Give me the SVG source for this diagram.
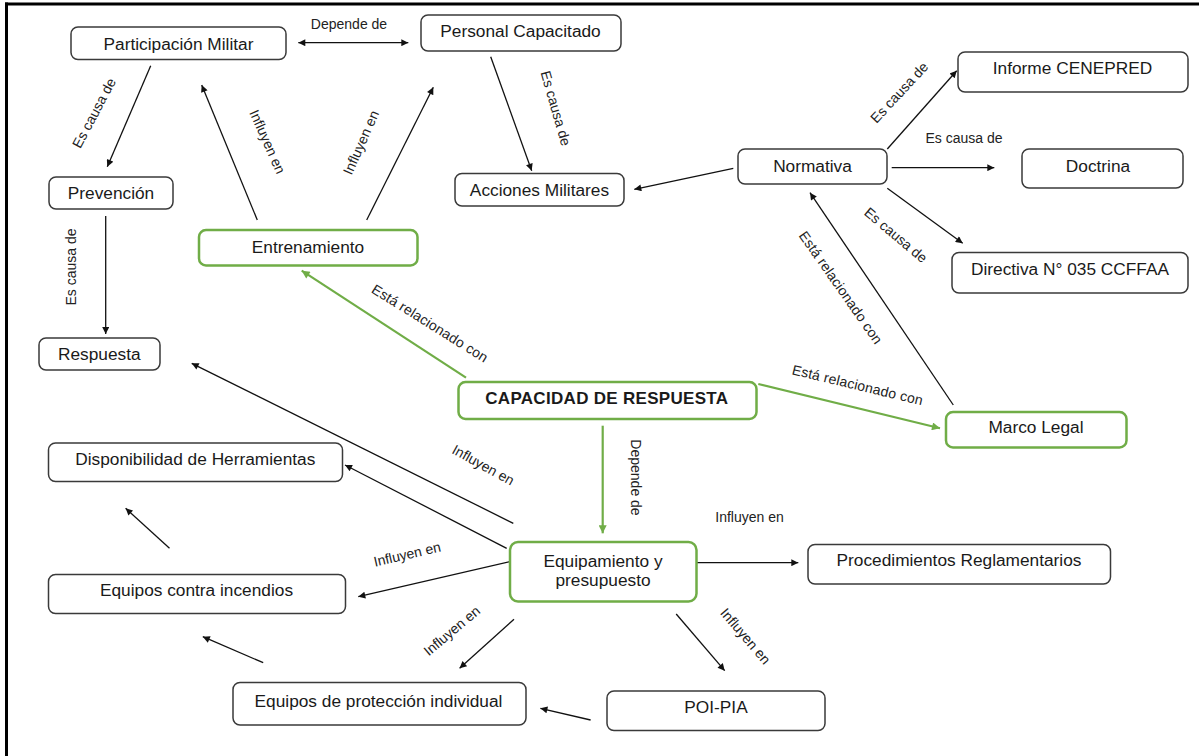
<svg xmlns="http://www.w3.org/2000/svg" width="1199" height="756" viewBox="0 0 1199 756">
<style>
.box{fill:#fff;stroke:#3a3a3a;stroke-width:1.5}
.gbox{fill:#fff;stroke:#70AD47;stroke-width:2.5}
.t{font-family:"Liberation Sans",Arial,sans-serif;font-size:17.3px;fill:#1a1a1a;text-anchor:middle}
.tb{font-family:"Liberation Sans",Arial,sans-serif;font-size:17px;font-weight:bold;fill:#1a1a1a;text-anchor:middle;letter-spacing:0.3px}
.lbl{font-family:"Liberation Sans",Arial,sans-serif;font-size:14px;fill:#222;text-anchor:middle}
.c{stroke:#111;stroke-width:1.3;fill:none;marker-end:url(#ah)}
.g{stroke:#70AD47;stroke-width:2.2;fill:none;marker-end:url(#gh)}
</style>
<defs>
<marker id="ah" viewBox="0 0 10 10" refX="10" refY="5" markerWidth="9" markerHeight="7" markerUnits="userSpaceOnUse" orient="auto-start-reverse"><path d="M0,0 L10,5 L0,10 z" fill="#111"/></marker>
<marker id="gh" viewBox="0 0 10 10" refX="10" refY="5" markerWidth="10" markerHeight="8" markerUnits="userSpaceOnUse" orient="auto"><path d="M0,0 L10,5 L0,10 z" fill="#70AD47"/></marker>
</defs>
<rect width="1199" height="756" fill="#fff"/>
<g id="frame" stroke="#000" stroke-width="3">
<line x1="6.5" y1="2.5" x2="6.5" y2="756"/>
<line x1="5" y1="4" x2="1199" y2="4"/>
</g>
<g id="connectors">
<line class="c" x1="298.3" y1="42.7" x2="408.3" y2="42.7" marker-start="url(#ah)"/>
<text class="lbl" x="349" y="29">Depende de</text>
<line class="c" x1="150.7" y1="65.7" x2="107.3" y2="166.7"/>
<text class="lbl" transform="translate(94,113) rotate(-62)" dy="0.35em">Es causa de</text>
<line class="c" x1="105.7" y1="216" x2="105.7" y2="334"/>
<text class="lbl" transform="translate(71,267) rotate(-90)" dy="0.35em">Es causa de</text>
<line class="c" x1="257.3" y1="220" x2="201.7" y2="85"/>
<text class="lbl" transform="translate(267.5,141.7) rotate(66)" dy="0.35em">Influyen en</text>
<line class="c" x1="366.7" y1="220" x2="433.3" y2="87.3"/>
<text class="lbl" transform="translate(361,142.5) rotate(-66)" dy="0.35em">Influyen en</text>
<line class="c" x1="490.7" y1="56.7" x2="531.7" y2="170.7"/>
<text class="lbl" transform="translate(555.8,108.3) rotate(74)" dy="0.35em">Es causa de</text>
<line class="c" x1="733.3" y1="168.3" x2="634.3" y2="189.3"/>
<line class="c" x1="887.3" y1="149" x2="956.7" y2="70.7"/>
<text class="lbl" transform="translate(899.2,92.5) rotate(-47)" dy="0.35em">Es causa de</text>
<line class="c" x1="891.7" y1="167.7" x2="994.3" y2="167.7"/>
<text class="lbl" x="964" y="143">Es causa de</text>
<line class="c" x1="887.3" y1="188.3" x2="962.7" y2="243.3"/>
<text class="lbl" transform="translate(895.8,235) rotate(40)" dy="0.35em">Es causa de</text>
<line class="c" x1="953.3" y1="405" x2="810" y2="192.7"/>
<text class="lbl" transform="translate(840.8,287.5) rotate(55)" dy="0.35em" textLength="134">Está relacionado con</text>
<line class="g" x1="466" y1="377.7" x2="301.7" y2="270.7"/>
<text class="lbl" transform="translate(430,323.3) rotate(32)" dy="0.35em" textLength="134">Está relacionado con</text>
<line class="g" x1="758.3" y1="384" x2="940" y2="428.3"/>
<text class="lbl" transform="translate(857.5,385) rotate(13.5)" dy="0.35em" textLength="134">Está relacionado con</text>
<line class="g" x1="602.7" y1="425.7" x2="602.7" y2="533.3"/>
<text class="lbl" transform="translate(635.5,477.5) rotate(90)" dy="0.35em">Depende de</text>
<line class="c" x1="513.3" y1="523.3" x2="191.7" y2="363.3"/>
<text class="lbl" transform="translate(483.3,465) rotate(29)" dy="0.35em">Influyen en</text>
<line class="c" x1="506.7" y1="548.3" x2="345" y2="465"/>
<line class="c" x1="510" y1="561.7" x2="358.3" y2="596.7"/>
<text class="lbl" transform="translate(407.2,554.2) rotate(-13)" dy="0.35em">Influyen en</text>
<line class="c" x1="169.5" y1="548.3" x2="125.6" y2="508.3"/>
<line class="c" x1="263.2" y1="662.7" x2="202.8" y2="636.7"/>
<line class="c" x1="514" y1="619.3" x2="459.6" y2="668.3"/>
<text class="lbl" transform="translate(451.8,630.8) rotate(-40)" dy="0.35em">Influyen en</text>
<line class="c" x1="590.6" y1="720" x2="540.4" y2="708.3"/>
<line class="c" x1="676.2" y1="614" x2="724.7" y2="670.7"/>
<text class="lbl" transform="translate(745.5,636.2) rotate(49.5)" dy="0.35em">Influyen en</text>
<line class="c" x1="697" y1="562.7" x2="798.3" y2="562.7"/>
<text class="lbl" x="749.5" y="521.5">Influyen en</text>
</g>
<g id="n-participacion"><rect class="box" x="71" y="27" width="215" height="32.5" rx="7"/><text class="t" x="178.5" y="49.5">Participación Militar</text></g>
<g id="n-personal"><rect class="box" x="421" y="15" width="200" height="36" rx="7"/><text class="t" x="520.5" y="36.5">Personal Capacitado</text></g>
<g id="n-prevencion"><rect class="box" x="49" y="177" width="124" height="32" rx="7"/><text class="t" x="111" y="199">Prevención</text></g>
<g id="n-acciones"><rect class="box" x="455" y="173.5" width="169" height="32.5" rx="7"/><text class="t" x="539.5" y="196">Acciones Militares</text></g>
<g id="n-normativa"><rect class="box" x="738" y="149" width="149" height="35" rx="7"/><text class="t" x="812.5" y="171.5">Normativa</text></g>
<g id="n-informe"><rect class="box" x="958" y="52" width="230" height="40" rx="7"/><text class="t" x="1072.5" y="74">Informe CENEPRED</text></g>
<g id="n-doctrina"><rect class="box" x="1022" y="149" width="161" height="39" rx="7"/><text class="t" x="1098" y="171.7">Doctrina</text></g>
<g id="n-directiva"><rect class="box" x="952" y="252.5" width="236" height="40.5" rx="7"/><text class="t" x="1070" y="275">Directiva N° 035 CCFFAA</text></g>
<g id="n-entrenamiento"><rect class="gbox" x="199" y="230" width="218.5" height="35.5" rx="7"/><text class="t" x="308" y="252.7">Entrenamiento</text></g>
<g id="n-respuesta"><rect class="box" x="39" y="338" width="121" height="32" rx="7"/><text class="t" x="99.3" y="360">Respuesta</text></g>
<g id="n-disponibilidad"><rect class="box" x="48.5" y="443" width="294" height="38.5" rx="7"/><text class="t" x="195.3" y="465">Disponibilidad de Herramientas</text></g>
<g id="n-capacidad"><rect class="gbox" x="458.5" y="382" width="298" height="37" rx="7"/><text class="tb" x="606.8" y="404.3">CAPACIDAD DE RESPUESTA</text></g>
<g id="n-marco"><rect class="gbox" x="946" y="412" width="180.5" height="35.5" rx="7"/><text class="t" x="1036" y="433.3">Marco Legal</text></g>
<g id="n-equipamiento"><rect class="gbox" x="510" y="542" width="186.5" height="59.5" rx="8"/><text class="t" x="603" y="567">Equipamiento y</text><text class="t" x="603" y="586">presupuesto</text></g>
<g id="n-procedimientos"><rect class="box" x="808" y="544.5" width="302.5" height="39.5" rx="7"/><text class="t" x="959" y="566">Procedimientos Reglamentarios</text></g>
<g id="n-incendios"><rect class="box" x="48.5" y="574.5" width="297" height="39" rx="7"/><text class="t" x="196.5" y="595.7">Equipos contra incendios</text></g>
<g id="n-proteccion"><rect class="box" x="233" y="682.5" width="293" height="42.5" rx="7"/><text class="t" x="378.5" y="706.7">Equipos de protección individual</text></g>
<g id="n-poi"><rect class="box" x="607" y="691" width="218" height="39.5" rx="7"/><text class="t" x="716" y="713.3">POI-PIA</text></g>
</svg>
